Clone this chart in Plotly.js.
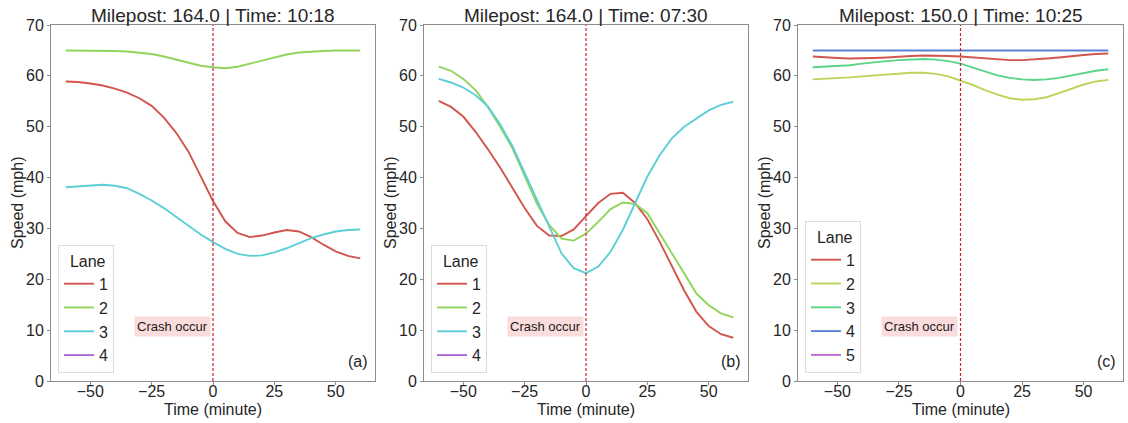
<!DOCTYPE html>
<html>
<head>
<meta charset="utf-8">
<script src="https://cdn.plot.ly/plotly-3.0.1.min.js"></script>
<style>html,body{margin:0;padding:0;background:#fff;}#chart{width:1128px;height:423px;}</style>
</head>
<body>
<div id="chart"></div>
<script>
// Time (minutes relative to crash)
const time = [-60,-55,-50,-45,-40,-35,-30,-25,-20,-15,-10,-5,0,5,10,15,20,25,30,35,40,45,50,55,60];

// Panel (a): Milepost 164.0 | Time 10:18
const titleA = "Milepost: 164.0 | Time: 10:18";
const a_lane1 = [58.9,58.8,58.5,58.1,57.5,56.7,55.6,54.1,51.8,48.8,45.1,40.4,35.4,31.4,29.1,28.3,28.6,29.2,29.7,29.4,28.3,26.8,25.5,24.6,24.1];
const a_lane2 = [65.0,65.0,65.0,65.0,64.9,64.8,64.6,64.3,63.8,63.2,62.6,62.0,61.7,61.5,61.8,62.4,63.1,63.7,64.2,64.6,64.8,64.9,65.0,65.0,65.0];
const a_lane3 = [38.1,38.3,38.5,38.6,38.4,37.9,36.8,35.5,34.0,32.3,30.5,28.8,27.3,26.0,25.0,24.6,24.7,25.3,26.1,27.1,28.1,28.8,29.4,29.7,29.8];
const a_lane4 = [];

// Panel (b): Milepost 164.0 | Time 07:30
const titleB = "Milepost: 164.0 | Time: 07:30";
const b_lane1 = [55.1,53.9,52.0,49.0,45.6,42.0,38.0,34.0,30.5,28.6,28.5,29.8,32.4,35.0,36.8,37.0,35.0,31.8,27.4,22.6,17.8,13.6,10.8,9.2,8.5];
const b_lane2 = [61.8,61.0,59.4,57.2,53.9,50.0,45.8,40.2,34.9,30.7,28.0,27.6,29.0,31.3,33.8,35.1,34.8,33.0,29.0,25.1,21.2,17.2,14.9,13.3,12.5];
const b_lane3 = [59.4,58.7,57.7,56.2,54.0,50.5,46.2,41.0,35.6,30.3,25.1,22.2,21.2,22.5,25.4,29.7,34.9,40.2,44.4,47.7,50.0,51.6,53.2,54.3,54.9];
const b_lane4 = [];

// Panel (c): Milepost 150.0 | Time 10:25
const titleC = "Milepost: 150.0 | Time: 10:25";
const c_lane1 = [63.8,63.6,63.5,63.4,63.4,63.5,63.6,63.8,63.9,64.0,64.0,63.9,63.8,63.6,63.4,63.2,63.1,63.1,63.2,63.4,63.6,63.9,64.1,64.3,64.4];
const c_lane2 = [59.3,59.4,59.5,59.7,59.9,60.1,60.3,60.5,60.6,60.6,60.4,59.9,59.1,58.2,57.2,56.3,55.6,55.3,55.4,55.8,56.6,57.5,58.3,58.9,59.2];
const c_lane3 = [61.7,61.8,61.9,62.1,62.4,62.7,62.9,63.1,63.2,63.3,63.2,62.9,62.4,61.6,60.8,60.1,59.6,59.3,59.2,59.3,59.6,60.1,60.6,61.0,61.3];
const c_lane4 = [65.0,65.0,65.0,65.0,65.0,65.0,65.0,65.0,65.0,65.0,65.0,65.0,65.0,65.0,65.0,65.0,65.0,65.0,65.0,65.0,65.0,65.0,65.0,65.0,65.0];
const c_lane5 = [];

const laneNames4 = ["1","2","3","4"];
const laneNames5 = ["1","2","3","4","5"];
const pal4 = ["#d2554e","#91d45a","#5ccfd6","#a869d2"];
const pal5 = ["#d2554e","#bcd45a","#5ad487","#5b82d2","#c56ad2"];

const xTitle = "Time (minute)";
const yTitle = "Speed (mph)";

const panels = [
  {sfx:"", leg:"legend", title:titleA, label:"(a)", series:[a_lane1,a_lane2,a_lane3,a_lane4], names:laneNames4, pal:pal4, dom:[51/1128,375/1128]},
  {sfx:"2", leg:"legend2", title:titleB, label:"(b)", series:[b_lane1,b_lane2,b_lane3,b_lane4], names:laneNames4, pal:pal4, dom:[424/1128,748/1128]},
  {sfx:"3", leg:"legend3", title:titleC, label:"(c)", series:[c_lane1,c_lane2,c_lane3,c_lane4,c_lane5], names:laneNames5, pal:pal5, dom:[798/1128,1123/1128]}
];

const FONT = "Liberation Sans, Arial, sans-serif";
const TXT = "#262626";
const FS = 16;
const yDom = [(423-381)/423, (423-25)/423];

const traces = [];
const layout = {
  width:1128, height:423,
  margin:{l:0,r:0,t:0,b:0},
  paper_bgcolor:"#fff", plot_bgcolor:"#fff",
  font:{family:FONT, color:TXT, size:FS},
  showlegend:true,
  annotations:[], shapes:[]
};

panels.forEach((p) => {
  const xa = "x"+p.sfx, ya = "y"+p.sfx;
  p.series.forEach((s, i) => {
    const empty = s.length === 0;
    traces.push({
      type:"scatter", mode:"lines",
      x: empty ? [null] : time, y: empty ? [null] : s,
      name: p.names[i],
      line:{color:p.pal[i], width:1.9},
      xaxis:xa, yaxis:ya, legend:p.leg,
      hoverinfo:"skip"
    });
  });
  const axCommon = {
    showgrid:false, zeroline:false, showline:true, mirror:true,
    linecolor:"#8c8c8c", linewidth:1, ticks:"outside", ticklen:3, tickcolor:"#8c8c8c",
    tickfont:{family:FONT, size:FS, color:TXT}
  };
  layout["xaxis"+p.sfx] = Object.assign({}, axCommon, {
    domain:p.dom, anchor:ya, range:[-66,66], tickvals:[-50,-25,0,25,50],
    ticktext:["\u221250","\u221225","0","25","50"], ticklabelstandoff:-7
  });
  layout["yaxis"+p.sfx] = Object.assign({}, axCommon, {
    domain:yDom, anchor:xa, range:[0,70], dtick:10
  });
  layout[p.leg] = {
    x: p.dom[0] + 7/1128, y: (423-373)/423, xanchor:"left", yanchor:"bottom",
    bgcolor:"#ffffff", bordercolor:"#dcdcdc", borderwidth:1,
    font:{family:FONT, size:16, color:TXT},
    title:{text:"&nbsp;&nbsp;Lane", side:"top", font:{family:FONT, size:16, color:TXT}},
    itemwidth:30, tracegroupgap:0
  };
  // dashed crash line
  layout.shapes.push({
    type:"line", xref:xa, yref:ya+" domain", x0:0, x1:0, y0:0, y1:1,
    line:{color:"#c8262c", width:1.2, dash:"3px,2px"}
  });
  // crash annotation
  layout.annotations.push({
    xref:xa, yref:ya, x:-1, y:10.7, xanchor:"right", yanchor:"middle",
    text:"Crash occur", showarrow:false,
    font:{family:FONT, size:13, color:"#1a1a1a"},
    bgcolor:"rgba(240,128,128,0.28)", borderpad:2
  });
  // panel label
  layout.annotations.push({
    xref:xa+" domain", yref:ya+" domain", x:0.985, y:0.025, xanchor:"right", yanchor:"bottom",
    text:p.label, showarrow:false, font:{family:FONT, size:16, color:TXT}
  });
  // subplot title
  layout.annotations.push({
    xref:xa+" domain", yref:ya+" domain", x:0.5, y:1, xanchor:"center", yanchor:"bottom",
    text:p.title, showarrow:false, font:{family:FONT, size:19, color:TXT}, yshift:-3
  });
  // x axis title
  layout.annotations.push({
    xref:xa+" domain", yref:"paper", x:0.5, y:(423-409)/423, xanchor:"center", yanchor:"middle",
    text:xTitle, showarrow:false, font:{family:FONT, size:FS, color:TXT}
  });
  // y axis title
  layout.annotations.push({
    xref:xa+" domain", yref:ya+" domain", x:0, y:0.5, xanchor:"center", yanchor:"middle",
    xshift:-34, textangle:-90,
    text:yTitle, showarrow:false, font:{family:FONT, size:FS, color:TXT}
  });
});

Plotly.newPlot("chart", traces, layout, {displayModeBar:false, staticPlot:true});
</script>
</body>
</html>
